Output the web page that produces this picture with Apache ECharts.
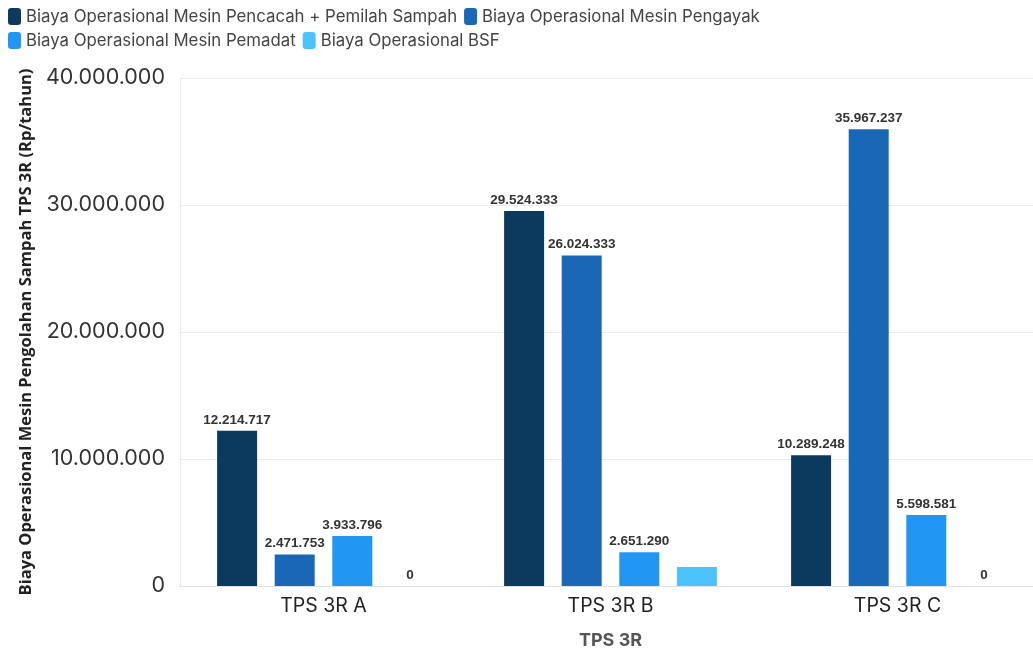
<!DOCTYPE html>
<html>
<head>
<meta charset="utf-8">
<script src="https://cdn.jsdelivr.net/npm/echarts@6/dist/echarts.min.js"></script>
<style>html,body{margin:0;padding:0;background:#fff}#c{width:1033px;height:655px}</style>
</head>
<body>
<div id="c"></div>
<script>
const categories = ['TPS 3R A', 'TPS 3R B', 'TPS 3R C'];
const seriesNames = ['Biaya Operasional Mesin Pencacah + Pemilah Sampah', 'Biaya Operasional Mesin Pengayak', 'Biaya Operasional Mesin Pemadat', 'Biaya Operasional BSF'];
const pencacah = [12214717, 29524333, 10289248];
const pengayak = [2471753, 26024333, 35967237];
const pemadat = [3933796, 2651290, 5598581];
const bsf = [0, 1500000, 0];
const bsfLabelShown = [true, false, true];
const colors = ['#0b3a5e', '#1a68b5', '#2196f3', '#4cc3fc'];

function fmt(v) { return String(Math.round(v)).replace(/\B(?=(\d{3})+(?!\d))/g, '.'); }

const allData = [pencacah, pengayak, pemadat, bsf];
const chart = echarts.init(document.getElementById('c'));
chart.setOption({
  animation: false,
  color: colors,
  legend: {
    left: 3, top: 3, width: 820,
    itemWidth: 13, itemHeight: 17, itemGap: 7,
    icon: 'roundRect',
    textStyle: { fontFamily: 'Inter', fontSize: 16.8, color: '#444' },
    data: seriesNames
  },
  grid: { left: 180, top: 78, width: 861, bottom: 69, containLabel: false, outerBoundsMode: 'none' },
  xAxis: {
    type: 'category', data: categories,
    name: 'TPS 3R', nameLocation: 'middle', nameGap: 46,
    nameTextStyle: { fontFamily: 'Inter', fontWeight: 'bold', fontSize: 18, color: '#555' },
    axisLine: { lineStyle: { color: '#e0e0e0' } },
    axisTick: { alignWithLabel: true, length: 6, lineStyle: { color: '#e0e0e0' } },
    axisLabel: { fontFamily: 'Inter', fontSize: 19.5, color: '#222', margin: 10 }
  },
  yAxis: {
    type: 'value', min: 0, max: 40000000, interval: 10000000,
    name: 'Biaya Operasional Mesin Pengolahan Sampah TPS 3R (Rp/tahun)',
    nameLocation: 'middle', nameGap: 138, nameRotate: 90,
    nameTextStyle: { fontFamily: 'Open Sans', fontWeight: 'bold', fontSize: 16.5, color: '#222' },
    axisLine: { show: true, lineStyle: { color: '#e6e6e6' } },
    axisTick: { show: false },
    splitLine: { lineStyle: { color: '#ececec' } },
    axisLabel: { fontFamily: 'Inter', fontSize: 21.5, color: '#333', margin: 15, formatter: v => fmt(v) }
  },
  series: allData.map((d, i) => ({
    name: seriesNames[i], type: 'bar',
    data: d.map((v, j) => ({ value: v, label: { show: i !== 3 || bsfLabelShown[j] } })),
    barWidth: 40, barGap: '44%', barCategoryGap: '26%',
    label: {
      show: true, position: 'top', distance: 4,
      fontFamily: 'Liberation Sans', fontWeight: 'bold', fontSize: 13.5, color: '#333',
      formatter: p => fmt(p.value)
    }
  }))
});
</script>
</body>
</html>
